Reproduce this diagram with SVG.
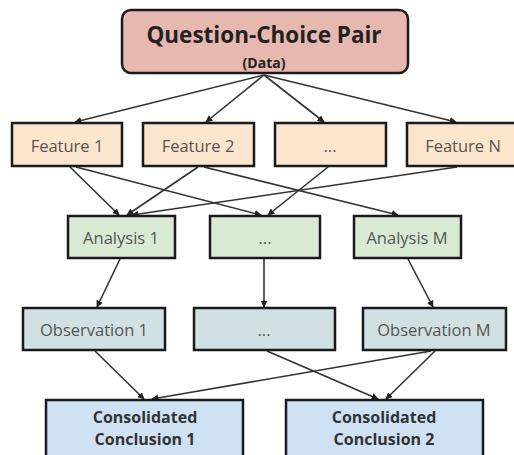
<svg xmlns="http://www.w3.org/2000/svg" width="514" height="455" viewBox="0 0 514 455">
<defs>
<marker id="ah" viewBox="0 0 10 10" refX="9" refY="5" markerWidth="7" markerHeight="7" markerUnits="userSpaceOnUse" orient="auto">
<path d="M0,0 L10,5 L0,10 z" fill="#222"/>
</marker>
<style>
.box{stroke:#1a1a1a;stroke-width:2.5}
.t{font-family:"Open Sans","DejaVu Sans",sans-serif;font-size:16.5px;fill:#555;text-anchor:middle}
.b{font-family:"Open Sans","DejaVu Sans",sans-serif;font-weight:bold;fill:#333;text-anchor:middle}
.c line{stroke:#333;stroke-width:1.6;marker-end:url(#ah)}
</style>
</defs>
<rect width="514" height="455" fill="#fff"/>
<g class="c" id="connectors">
<line x1="264" y1="75" x2="75" y2="122"/>
<line x1="264" y1="75" x2="206" y2="122"/>
<line x1="264" y1="75" x2="324" y2="122"/>
<line x1="264" y1="75" x2="456" y2="122"/>
<line x1="70" y1="167" x2="119" y2="215"/>
<line x1="76" y1="167" x2="261" y2="215"/>
<line x1="198" y1="167" x2="127" y2="215"/>
<line x1="204" y1="167" x2="398" y2="215"/>
<line x1="328" y1="167" x2="268" y2="215"/>
<line x1="457" y1="167" x2="132" y2="215"/>
<line x1="120" y1="259" x2="97" y2="307"/>
<line x1="264" y1="259" x2="264" y2="307"/>
<line x1="408" y1="259" x2="433" y2="307"/>
<line x1="95" y1="351" x2="144" y2="399"/>
<line x1="267" y1="351" x2="378" y2="399"/>
<line x1="431" y1="351" x2="152" y2="399"/>
<line x1="435" y1="351" x2="386" y2="399"/>
</g>
<g id="data">
<rect class="box" x="122" y="10" width="286" height="63" rx="9" fill="#e6b8af"/>
<text class="b" x="264" y="43" font-size="22.5" style="fill:#222">Question-Choice Pair</text>
<text class="b" x="264" y="68" font-size="14" style="fill:#222">(Data)</text>
</g>
<g id="feature1"><rect class="box" x="12" y="123" width="110" height="43" fill="#fce5cd"/><text class="t" x="67" y="152">Feature 1</text></g>
<g id="feature2"><rect class="box" x="143" y="123" width="111" height="43" fill="#fce5cd"/><text class="t" x="198" y="152">Feature 2</text></g>
<g id="featureDots"><rect class="box" x="275" y="123" width="111" height="43" fill="#fce5cd"/><text class="t" x="330" y="152">...</text></g>
<g id="featureN"><rect class="box" x="407" y="123" width="110" height="43" fill="#fce5cd"/><text class="t" x="463" y="152">Feature N</text></g>
<g id="analysis1"><rect class="box" x="68" y="216" width="107" height="42" fill="#d9ead3"/><text class="t" x="121" y="244">Analysis 1</text></g>
<g id="analysisDots"><rect class="box" x="210" y="216" width="110" height="42" fill="#d9ead3"/><text class="t" x="265" y="244">...</text></g>
<g id="analysisM"><rect class="box" x="354" y="216" width="107" height="42" fill="#d9ead3"/><text class="t" x="407" y="244">Analysis M</text></g>
<g id="observation1"><rect class="box" x="23" y="308" width="142" height="42" fill="#d0e0e3"/><text class="t" x="94" y="336">Observation 1</text></g>
<g id="observationDots"><rect class="box" x="194" y="308" width="141" height="42" fill="#d0e0e3"/><text class="t" x="264" y="336">...</text></g>
<g id="observationM"><rect class="box" x="363" y="308" width="143" height="42" fill="#d0e0e3"/><text class="t" x="434" y="336">Observation M</text></g>
<g id="conclusion1"><rect class="box" x="46" y="400" width="197" height="62" fill="#cfe2f3"/><text class="b" x="145" y="423" font-size="16">Consolidated</text><text class="b" x="145" y="445" font-size="16">Conclusion 1</text></g>
<g id="conclusion2"><rect class="box" x="286" y="400" width="197" height="62" fill="#cfe2f3"/><text class="b" x="384" y="423" font-size="16">Consolidated</text><text class="b" x="384" y="445" font-size="16">Conclusion 2</text></g>
</svg>
